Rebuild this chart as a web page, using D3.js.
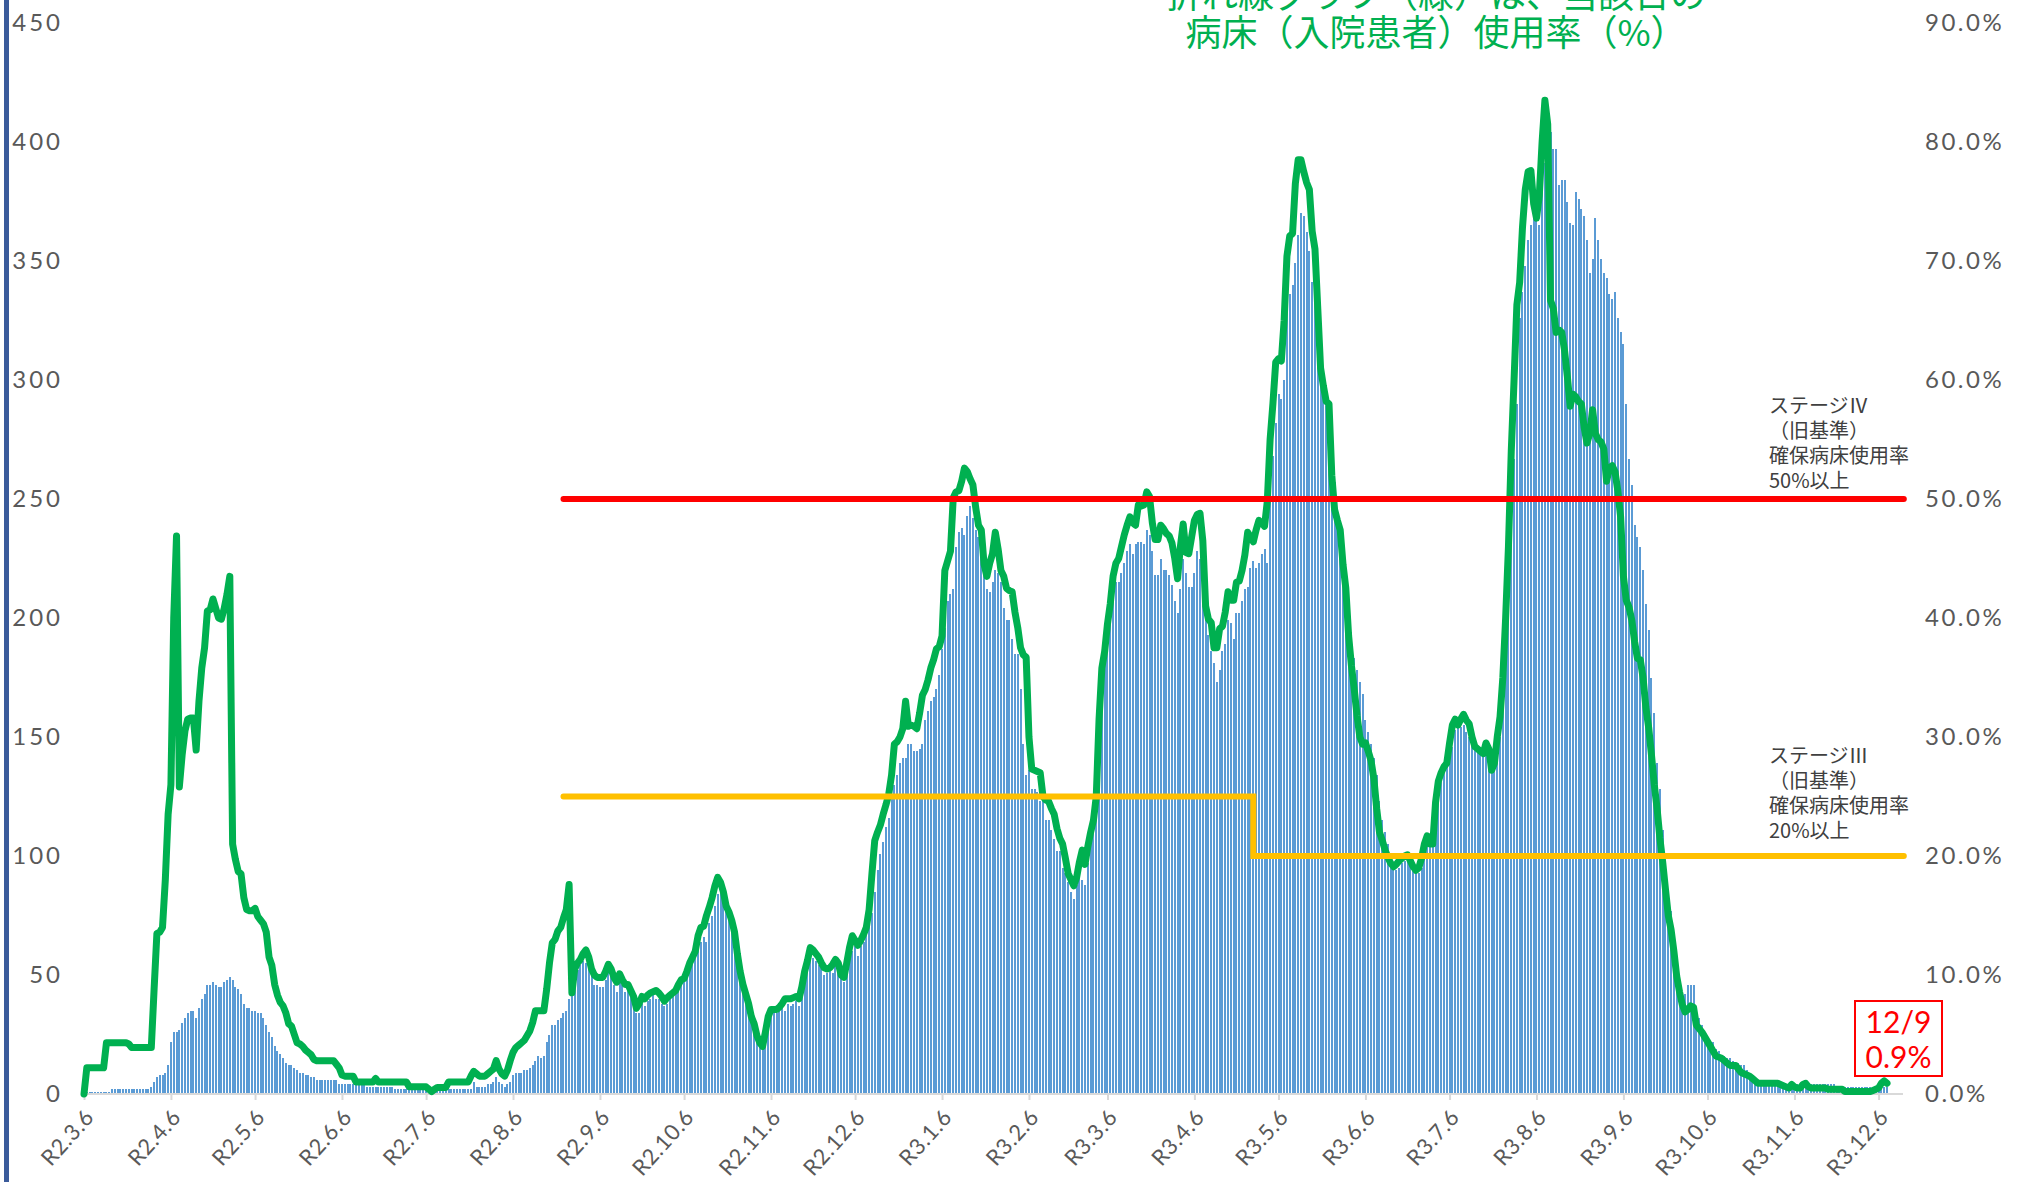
<!DOCTYPE html>
<html>
<head>
<meta charset="utf-8">
<script src="https://cdn.jsdelivr.net/npm/d3@7"></script>
<style>
  body { margin: 0; background: #fff; }
  svg { display: block; }
</style>
</head>
<body>
<script>
'use strict'

// first day of the daily series (R2.3.6)
const startDate = '2020-03-06'

// inpatients per day (left axis)
const patients = [
  1,1,1,1,1,1,1,1,1,1,
  2,2,2,2,2,2,2,2,2,2,
  2,2,2,2,3,5,7,8,8,9,
  12,22,26,26,27,30,32,34,35,35,
  32,36,40,42,46,46,47,46,45,45,
  47,48,49,48,45,44,42,38,36,36,
  35,35,34,34,32,29,26,24,20,18,
  17,15,13,12,12,11,10,9,9,8,
  8,7,7,6,6,6,6,6,6,6,
  6,4,4,4,4,4,4,4,4,4,
  4,3,3,3,3,3,3,3,3,3,
  3,2,2,2,2,2,2,2,2,2,
  2,2,2,2,2,2,2,2,2,2,
  2,2,2,2,2,2,2,2,2,5,
  3,3,3,3,4,4,5,7,5,4,
  3,4,5,8,9,9,9,10,10,11,
  12,14,16,15,16,22,25,29,29,31,
  32,34,35,40,42,48,52,54,56,55,
  54,51,46,46,45,45,48,52,50,46,
  43,48,46,43,44,42,39,34,34,38,
  37,39,40,42,40,40,38,37,38,41,
  42,43,44,46,48,50,53,55,58,61,
  64,66,64,72,75,79,84,87,85,82,
  78,74,68,61,55,50,44,38,34,28,
  25,23,21,25,30,33,34,34,35,36,
  35,38,37,38,39,37,46,51,54,56,
  57,56,54,53,50,51,52,51,54,53,
  49,47,53,57,60,62,58,62,64,67,
  70,76,85,94,101,106,112,116,124,130,
  134,139,141,141,147,147,144,144,145,147,
  157,161,165,167,170,176,187,196,207,210,
  212,230,236,238,235,243,247,242,237,234,
  230,221,212,211,215,220,219,215,204,199,
  199,191,185,185,170,147,134,136,128,128,
  127,123,123,115,115,111,107,102,102,95,
  93,89,85,82,88,94,90,88,97,105,
  118,136,157,178,189,195,203,210,215,215,
  219,223,228,231,227,231,232,232,231,237,
  235,228,218,218,225,220,220,218,214,207,
  202,212,225,219,213,213,219,228,225,214,
  199,193,186,181,173,178,186,189,199,198,
  191,202,202,207,212,213,221,224,221,223,
  227,229,223,252,268,282,294,292,300,328,
  336,340,349,361,370,369,362,354,341,333,
  323,311,302,294,286,269,257,246,237,228,
  220,207,194,183,178,173,168,157,152,147,
  141,134,123,115,110,105,99,95,94,95,
  97,98,99,97,95,94,93,95,99,105,
  108,108,110,125,134,135,139,141,146,153,
  156,154,155,152,150,148,146,144,143,142,
  143,140,136,137,142,150,167,184,214,239,
  267,290,326,337,348,359,365,369,368,365,
  379,391,407,404,397,397,382,384,384,375,
  366,365,379,376,372,369,359,345,351,368,
  359,351,345,343,336,334,337,326,320,315,
  290,267,256,239,234,230,220,206,195,175,
  160,139,128,111,89,78,77,55,50,47,
  42,42,46,46,46,33,32,29,26,23,
  22,22,19,18,16,16,15,15,14,13,
  13,12,12,10,9,8,7,6,5,5,
  5,5,5,5,5,5,4,4,4,4,
  4,4,4,4,4,4,4,4,4,4,
  4,4,4,4,4,3,3,3,3,3,
  3,3,3,3,3,3,3,3,3,3,
  3,3,3,3
]

// bed usage rate in % (right axis)
const usageRate = [
  0,2.2,2.2,2.2,2.2,2.2,2.2,2.2,4.3,4.3,
  4.3,4.3,4.3,4.3,4.3,4.3,4.2,3.9,3.9,3.9,
  3.9,3.9,3.9,3.9,3.9,8.8,13.5,13.6,14,18,
  23.5,26,40,46.9,25.8,28.5,30.5,31.5,31.6,31.6,
  28.9,33,35.8,37.5,40.6,40.7,41.6,40.8,40,39.9,
  40.8,42,43.5,21,19.7,18.7,18.5,16.5,15.5,15.4,
  15.4,15.6,14.9,14.6,14.3,13.6,11.5,10.8,9.2,8.3,
  7.7,7.4,6.8,5.9,5.7,5,4.3,4.2,4,3.7,
  3.5,3.3,2.9,2.8,2.8,2.8,2.8,2.8,2.8,2.8,
  2.5,2.2,1.6,1.5,1.5,1.5,1.5,1,1,1,
  1,1,1,1,1.3,1,1,1,1,1,
  1,1,1,1,1,1,0.6,0.6,0.6,0.6,
  0.6,0.6,0.6,0.4,0.2,0.4,0.55,0.55,0.55,0.55,
  1,1,1,1,1,1,1,1,1.5,1.9,
  1.7,1.5,1.5,1.5,1.7,1.9,2.1,2.8,2.1,1.7,
  1.5,2,2.8,3.5,3.9,4.1,4.3,4.5,4.9,5.3,
  6,7,7,7,7,8.8,11,12.7,13,13.7,
  14,14.8,15.5,17.6,8.5,10.5,11,11.3,11.8,12.1,
  11.5,10.5,10,9.8,9.8,9.8,10.3,10.9,10.5,9.8,
  9.4,10.1,9.6,9.2,9.2,8.7,8.2,7.2,7.6,8.2,
  8,8.3,8.5,8.6,8.7,8.5,8.2,7.8,8.1,8.3,
  8.5,8.7,9.2,9.6,9.7,10.3,11,11.5,12,13.3,
  14,14.1,15,15.7,16.5,17.5,18.2,17.8,17,15.8,
  15.3,14.6,13.6,11.8,10.3,9.2,8.4,7.6,6.5,5.9,
  4.9,4.3,4,5.2,6.5,7.1,7.1,7.1,7.3,7.6,
  8,8,8,8.1,8.2,8,9,10.3,11.2,12.3,
  12.1,11.8,11.5,11,10.6,10.5,10.6,10.9,11.3,11,
  10,9.8,11,12.3,13.3,12.9,12.5,12.9,13.4,14,
  15.5,18.5,21.3,22,22.6,23.5,24.3,25.2,26.8,29.4,
  29.6,30,30.7,33,30.9,31,30.9,30.7,32,33.5,
  34,34.8,35.8,36.5,37.4,37.6,38.5,44,44.8,45.6,
  50.1,50.6,50.7,51.5,52.6,52.3,51.7,51.2,49.3,47.8,
  47.4,44.5,43.5,44.6,45.4,47.2,45.8,44,43.5,42.5,
  42.3,42.2,40.5,39.2,37.5,36.9,36.7,30,27.3,27.2,
  27.1,27,25,24.7,24.6,24,23.5,22.3,21.5,21,
  19.8,18.5,18,17.5,18.2,19.5,20.5,19.3,20.8,22,
  23,25,31.5,35.8,37.2,39.5,41.2,43.5,44.6,45,
  46,47,47.8,48.5,48,47.8,49.5,49.4,49.5,50.6,
  50.2,48,46.6,46.6,47.8,47.5,47.1,46.9,46.3,45,
  43.3,46,47.9,45.5,45.4,46.8,48.2,48.7,48.8,46.5,
  41,39.9,39.6,37.5,37.5,39.1,39.3,40.5,42.2,41.5,
  41.5,43,43.1,44,45.3,47.2,46.8,46.4,47.4,48.2,
  48,47.7,49.8,55,58,61.5,61.8,61.6,65,70.4,
  72.1,72.3,76.5,78.5,78.5,77.5,76.6,76,72.5,71,
  66,61,59.5,58.2,58,52,49.1,48.2,47.4,44.5,
  42.5,38.5,36,34,31.8,30,29.4,29.5,28.8,28,
  26.5,24,22,21.3,20.5,19.9,19.4,19.1,19.3,19.6,
  19.8,20,20.1,19.6,19.1,18.8,19,19.8,21,21.7,
  21,21,24.5,26.3,27,27.5,27.8,29.5,31,31.5,
  31,31.5,31.9,31.4,31.1,30,29.2,29,28.8,28.6,
  29.5,29,27.2,27.8,30,31.7,35,40,46,54,
  60,66.3,68.2,72.8,76,77.5,77.6,74.8,73.6,75.5,
  80,83.5,81.5,66.7,66,64,64.2,64,62.5,60.3,
  57.8,58.8,58.6,58.2,58,56,54.7,55.5,57.5,55.5,
  55,54.8,54.2,51.5,52.6,52.8,52.3,50.7,48.5,43.5,
  41.5,40.9,39.8,38,36.6,36.5,35,32.5,30.8,28.5,
  26,24,21.5,19.5,17.2,15,13.8,12,9.9,8.6,
  7.5,6.9,7.1,7.4,7.3,5.8,5.5,5.2,4.8,4.4,
  4,3.6,3.2,3.1,3,2.8,2.6,2.4,2.4,2.4,
  2.1,1.8,1.7,1.6,1.5,1.3,1.1,0.9,0.9,0.9,
  0.9,0.9,0.9,0.9,0.9,0.8,0.7,0.6,0.5,0.8,
  0.6,0.5,0.5,0.8,0.9,0.6,0.5,0.5,0.5,0.5,
  0.5,0.5,0.4,0.4,0.4,0.4,0.4,0.4,0.2,0.2,
  0.2,0.2,0.2,0.2,0.2,0.2,0.2,0.2,0.3,0.4,
  0.5,0.9,1.1,0.9
]

// x axis ticks (6th of each month) and their labels
const tickDates = [
  '2020-03-06','2020-04-06','2020-05-06','2020-06-06','2020-07-06','2020-08-06',
  '2020-09-06','2020-10-06','2020-11-06','2020-12-06','2021-01-06','2021-02-06',
  '2021-03-06','2021-04-06','2021-05-06','2021-06-06','2021-07-06','2021-08-06',
  '2021-09-06','2021-10-06','2021-11-06','2021-12-06'
]
const tickLabels = [
  'R2.3.6','R2.4.6','R2.5.6','R2.6.6','R2.7.6','R2.8.6',
  'R2.9.6','R2.10.6','R2.11.6','R2.12.6','R3.1.6','R3.2.6',
  'R3.3.6','R3.4.6','R3.5.6','R3.6.6','R3.7.6','R3.8.6',
  'R3.9.6','R3.10.6','R3.11.6','R3.12.6'
]
const leftTicks = [0, 50, 100, 150, 200, 250, 300, 350, 400, 450]
const rightTicks = [0, 10, 20, 30, 40, 50, 60, 70, 80, 90]

// stage thresholds (old criteria), date / percent pairs
const stage4Dates = ['2020-08-24', '2021-12-15']
const stage4Values = [50, 50]
const stage3Dates = ['2020-08-24', '2021-04-27', '2021-04-27', '2021-12-15']
const stage3Values = [25, 25, 20, 20]

const titleLines = ['折れ線グラフ（緑）は、当該日の', '病床（入院患者）使用率（%）']
const stage4Text = ['ステージⅣ', '（旧基準）', '確保病床使用率', '50%以上']
const stage3Text = ['ステージⅢ', '（旧基準）', '確保病床使用率', '20%以上']

const m = {
  width: 2018,
  height: 1182,
  left: 84,
  right: 1887,
  top: 23,
  bottom: 1094
}

const colors = {
  bar: '#5B9BD5',
  line: '#00B050',
  stage4: '#FF0000',
  stage3: '#FFC000',
  text: '#595959',
  note: '#404040',
  axis: '#D9D9D9',
  border: '#3B5B9B'
}

const latin = 'Lato, "Open Sans", sans-serif'
const cjk = '"Noto Sans CJK JP", "Noto Sans", sans-serif'

const parseDay = d3.utcParse('%Y-%m-%d')
const firstDay = parseDay(startDate)
const days = patients.map((v, i) => d3.utcDay.offset(firstDay, i))

const svg = d3.select('body')
  .append('svg')
  .attr('width', m.width)
  .attr('height', m.height)

// scales
const x = d3.scaleUtc()
  .domain([days[0], days[days.length - 1]])
  .range([m.left, m.right])

const yLeft = d3.scaleLinear()
  .domain([0, 450])
  .range([m.bottom, m.top])

const yRight = d3.scaleLinear()
  .domain([0, 90])
  .range([m.bottom, m.top])

// left frame border
svg.append('rect')
  .attr('x', 4)
  .attr('y', 0)
  .attr('width', 5)
  .attr('height', m.height)
  .style('fill', colors.border)

// bars
const barW = 2
svg.append('g')
  .selectAll('rect')
  .data(patients)
  .enter()
  .append('rect')
    .attr('x', (d, i) => x(days[i]) - barW / 2)
    .attr('y', (d) => yLeft(d))
    .attr('width', barW)
    .attr('height', (d) => yLeft(0) - yLeft(d))
    .style('fill', colors.bar)
    .style('shape-rendering', 'crispEdges')

// x axis
const xAxis = d3.axisBottom(x)
  .tickValues(tickDates.map(parseDay))
  .tickFormat((d, i) => tickLabels[i])
  .tickSize(6)
  .tickSizeOuter(0)

const gx = svg.append('g')
  .attr('transform', 'translate(0,' + m.bottom + ')')
  .call(xAxis)

gx.select('.domain').remove()
gx.selectAll('.tick line').style('stroke', colors.axis).style('stroke-width', 2)
gx.selectAll('.tick text')
  .attr('transform', 'translate(5,19) rotate(-48)')
  .attr('x', 0)
  .attr('y', 0)
  .attr('dy', '0.35em')
  .style('text-anchor', 'end')
  .style('font-family', latin)
  .style('font-size', '22px')
  .style('letter-spacing', '0.6px')
  .style('fill', colors.text)

gx.append('line')
  .attr('x1', x.range()[0])
  .attr('x2', x.range()[1] + 16)
  .style('stroke', colors.axis)
  .style('stroke-width', 2)

// left axis
const gl = svg.append('g')
  .attr('transform', 'translate(66,0)')
  .call(d3.axisLeft(yLeft).tickValues(leftTicks).tickSize(0).tickPadding(3))
gl.select('.domain').remove()
gl.selectAll('text')
  .style('font-family', latin)
  .style('font-size', '24px')
  .style('letter-spacing', '3px')
  .style('fill', colors.text)

// right axis
const gr = svg.append('g')
  .attr('transform', 'translate(1922,0)')
  .call(d3.axisRight(yRight).tickValues(rightTicks).tickSize(0).tickPadding(3)
    .tickFormat((d) => d.toFixed(1) + '%'))
gr.select('.domain').remove()
gr.selectAll('text')
  .style('font-family', latin)
  .style('font-size', '24px')
  .style('letter-spacing', '2.5px')
  .style('fill', colors.text)

// usage rate line
const rateLine = d3.line()
  .x((d, i) => x(days[i]))
  .y((d) => yRight(d))

svg.append('path')
  .datum(usageRate)
  .attr('d', rateLine)
  .style('fill', 'none')
  .style('stroke', colors.line)
  .style('stroke-width', 7)
  .style('stroke-linejoin', 'round')
  .style('stroke-linecap', 'round')

// stage lines
const stageLine = (dates) => d3.line()
  .x((d, i) => x(parseDay(dates[i])))
  .y((d) => yRight(d))

svg.append('path')
  .datum(stage3Values)
  .attr('d', stageLine(stage3Dates))
  .style('fill', 'none')
  .style('stroke', colors.stage3)
  .style('stroke-width', 6)
  .style('stroke-linecap', 'round')

svg.append('path')
  .datum(stage4Values)
  .attr('d', stageLine(stage4Dates))
  .style('fill', 'none')
  .style('stroke', colors.stage4)
  .style('stroke-width', 6)
  .style('stroke-linecap', 'round')

// stage notes
function addNote(lines, level, offset) {
  svg.append('text')
    .attr('x', 1769)
    .attr('y', yRight(level) - offset)
    .style('font-family', cjk)
    .style('font-size', '20px')
    .style('fill', colors.note)
    .selectAll('tspan')
    .data(lines)
    .enter()
    .append('tspan')
      .attr('x', 1769)
      .attr('dy', (d, i) => i === 0 ? 0 : 25)
      .text((d) => d)
}
addNote(stage4Text, stage4Values[0], 86)
addNote(stage3Text, stage3Values[2], 93)

// title (top line is clipped by the page edge)
svg.append('g')
  .selectAll('text')
  .data(titleLines)
  .enter()
  .append('text')
    .attr('x', 1436)
    .attr('y', (d, i) => 8 + i * 38)
    .style('text-anchor', 'middle')
    .style('font-family', cjk)
    .style('font-size', '36px')
    .style('fill', colors.line)
    .text((d) => d)

// latest value callout
const last = usageRate.length - 1
const lastDay = days[last]
const boxX = x(lastDay) - 32
svg.append('rect')
  .attr('x', boxX)
  .attr('y', 1001)
  .attr('width', 87)
  .attr('height', 75)
  .style('fill', '#fff')
  .style('stroke', colors.stage4)
  .style('stroke-width', 2)

svg.append('text')
  .attr('x', boxX + 43.5)
  .attr('y', 1033)
  .style('text-anchor', 'middle')
  .style('font-family', latin)
  .style('font-size', '30px')
  .style('fill', colors.stage4)
  .text((lastDay.getUTCMonth() + 1) + '/' + lastDay.getUTCDate())

svg.append('text')
  .attr('x', boxX + 43.5)
  .attr('y', 1068)
  .style('text-anchor', 'middle')
  .style('font-family', latin)
  .style('font-size', '30px')
  .style('fill', colors.stage4)
  .text(usageRate[last].toFixed(1) + '%')
</script>
</body>
</html>
